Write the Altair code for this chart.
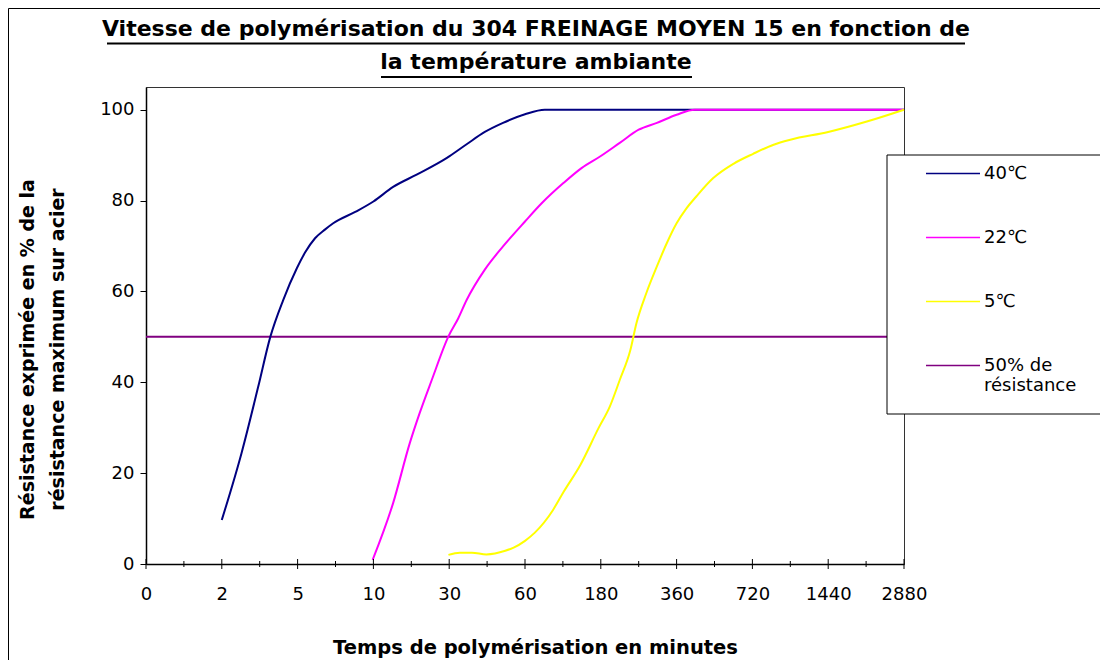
import altair as alt
import pandas as pd

# ---------------- data ----------------
TICK_LABELS = ["0", "2", "5", "10", "30", "60", "180", "360", "720", "1440", "2880"]
SERIES = ["40℃", "22℃", "5℃", "50% de résistance"]
COLORS = ["#000080", "#FF00FF", "#FFFF00", "#800080"]

# x positions are expressed in category-index units of the (evenly spaced) time axis
POS_40 = [1.0, 1.26, 1.48, 1.64, 1.81, 1.99, 2.10, 2.23, 2.36, 2.47, 2.76, 3.0, 3.26,
          3.57, 3.97, 4.23, 4.47, 4.71, 5.0, 5.26, 10.0]
VAL_40 = [9.7, 24.4, 39.0, 50.0, 58.1, 65.1, 68.6, 71.7, 73.6, 75.0, 77.5, 79.8, 83.0,
          85.7, 89.4, 92.4, 95.1, 97.1, 99.0, 100.0, 100.0]

POS_22 = [2.99, 3.26, 3.48, 3.61, 3.77, 3.99, 4.12, 4.23, 4.47, 4.71, 5.0, 5.22, 5.51,
          5.75, 5.99, 6.25, 6.5, 6.74, 7.0, 7.24, 10.0]
VAL_22 = [0.9, 13.4, 26.6, 33.2, 40.5, 50.1, 54.1, 58.1, 64.8, 69.9, 75.4, 79.4, 83.9,
          87.2, 89.7, 92.7, 95.6, 97.1, 98.9, 100.0, 100.0]

POS_5 = [3.99, 4.14, 4.30, 4.49, 4.74, 4.85, 5.0, 5.13, 5.37, 5.51, 5.73, 5.97, 6.12,
         6.25, 6.39, 6.47, 6.60, 6.74, 6.87, 7.0, 7.13, 7.26, 7.48, 7.75, 8.01, 8.28,
         8.50, 9.0, 9.51, 10.0]
VAL_5 = [2.0, 2.5, 2.5, 2.1, 2.9, 3.6, 5.1, 6.9, 11.9, 15.9, 21.8, 29.9, 34.7,
         40.5, 47.1, 53.0, 59.6, 65.5, 70.6, 75.0, 78.3, 80.9, 84.9, 88.1, 90.3, 92.3,
         93.4, 95.1, 97.4, 100.0]

THRESHOLD = 50
MAJOR_TICKS = list(range(len(TICK_LABELS)))
MINOR_TICKS = [i + 0.5 for i in range(len(TICK_LABELS) - 1)]
Y_TICKS = [0, 20, 40, 60, 80, 100]

TITLE_1 = "Vitesse de polymérisation du 304 FREINAGE MOYEN 15 en fonction de"
TITLE_2 = "la température ambiante"
X_TITLE = "Temps de polymérisation en minutes"
Y_TITLE = ["Résistance exprimée en % de la", "résistance maximum sur acier"]

# ---------------- tables ----------------
rows = []
for name, xs, ys in [(SERIES[0], POS_40, VAL_40), (SERIES[1], POS_22, VAL_22), (SERIES[2], POS_5, VAL_5)]:
    for xv, yv in zip(xs, ys):
        rows.append({"serie": name, "pos": xv, "val": yv})
rows.append({"serie": SERIES[3], "pos": MAJOR_TICKS[0], "val": THRESHOLD})
rows.append({"serie": SERIES[3], "pos": MAJOR_TICKS[-1], "val": THRESHOLD})
df = pd.DataFrame(rows)

major_df = pd.DataFrame({"pos": MAJOR_TICKS})
minor_df = pd.DataFrame({"pos": MINOR_TICKS})
one = pd.DataFrame({"k": [0]})

W, H = 758, 477
FONT = "DejaVu Sans"

label_expr = "[" + ",".join("'%s'" % t for t in TICK_LABELS) + "][round(datum.value)]"
x_scale = alt.Scale(domain=[MAJOR_TICKS[0], MAJOR_TICKS[-1]], nice=False, zero=False)

x_enc = alt.X("pos:Q", scale=x_scale,
              axis=alt.Axis(values=MAJOR_TICKS, labelExpr=label_expr, ticks=False, tickSize=0,
                            labelPadding=21, labelFlush=False, labelOverlap=False, grid=False,
                            labelFont=FONT, labelFontSize=18, labelColor="#000",
                            domainColor="#000", domainWidth=1.5,
                            title=X_TITLE, titleFont=FONT, titleFontSize=19.5, titleFontWeight="bold",
                            titleColor="#000", titleX=389, titleY=83, titleAlign="center",
                            titleBaseline="middle", titleAngle=0))
y_enc = alt.Y("val:Q",
              scale=alt.Scale(domain=[0, 105], nice=False),
              axis=alt.Axis(values=Y_TICKS, tickSize=6, tickColor="#000", tickWidth=1,
                            labelPadding=6, grid=False, labelFont=FONT, labelFontSize=18,
                            labelColor="#000", domainColor="#000", domainWidth=1.5,
                            title=Y_TITLE, titleFont=FONT, titleFontSize=19, titleFontWeight="bold",
                            titleColor="#000", titleX=-119, titleY=262, titleAngle=270,
                            titleAlign="center", titleBaseline="middle", titleLineHeight=30))

legend = alt.Legend(orient="none", legendX=779, legendY=58.5, title=None,
                    symbolType="stroke", symbolSize=2916, symbolStrokeWidth=1.5,
                    padding=0, rowPadding=27, labelOffset=3, labelFont=FONT, labelFontSize=18,
                    labelColor="#000", labelLimit=300,
                    labelExpr="datum.label == '50% de résistance' ? ['50% de', 'résistance'] : datum.label")
color = alt.Color("serie:N", scale=alt.Scale(domain=SERIES, range=COLORS), legend=legend)

frame = alt.Chart(one).mark_rect(fillOpacity=0, stroke="#000", strokeWidth=1).encode(
    x=alt.value(-137.5), x2=alt.value(1200), y=alt.value(-78.5), y2=alt.value(800))

title1 = alt.Chart(one).mark_text(text=TITLE_1, font=FONT, fontSize=22, fontWeight="bold",
                                  align="center", baseline="middle", color="#000").encode(
    x=alt.value(390), y=alt.value(-58))
title2 = alt.Chart(one).mark_text(text=TITLE_2, font=FONT, fontSize=22, fontWeight="bold",
                                  align="center", baseline="middle", color="#000").encode(
    x=alt.value(390), y=alt.value(-25))
under1 = alt.Chart(one).mark_rule(color="#000", strokeWidth=2).encode(
    x=alt.value(-39), x2=alt.value(819), y=alt.value(-43.5))
under2 = alt.Chart(one).mark_rule(color="#000", strokeWidth=2).encode(
    x=alt.value(235), x2=alt.value(546), y=alt.value(-10))

major_rules = alt.Chart(major_df).mark_rule(color="#000", strokeWidth=1).encode(
    x=alt.X("pos:Q", scale=x_scale), y=alt.value(H - 5), y2=alt.value(H + 5))
minor_rules = alt.Chart(minor_df).mark_rule(color="#000", strokeWidth=1).encode(
    x=alt.X("pos:Q", scale=x_scale), y=alt.value(H - 3), y2=alt.value(H + 3))

base = alt.Chart(df)


def series_layer(name):
    return base.transform_filter(alt.datum.serie == name).mark_line(
        strokeWidth=2, interpolate="monotone").encode(x=x_enc, y=y_enc, color=color)


legend_box = alt.Chart(one).mark_rect(fill="#fff", stroke="#000", strokeWidth=1).encode(
    x=alt.value(741), x2=alt.value(1200), y=alt.value(68), y2=alt.value(327))

chart = alt.layer(
    frame,
    series_layer(SERIES[3]),
    series_layer(SERIES[0]),
    series_layer(SERIES[1]),
    series_layer(SERIES[2]),
    major_rules, minor_rules,
    legend_box,
    title1, title2, under1, under2,
).properties(
    width=W, height=H,
    autosize=alt.AutoSizeParams(type="none"),
    padding={"left": 138, "top": 79, "right": 196, "bottom": 96},
    background="#ffffff",
).configure_view(stroke="#333", strokeWidth=1)

chart.save("out.html", embed_options={"renderer": "svg", "actions": False})
